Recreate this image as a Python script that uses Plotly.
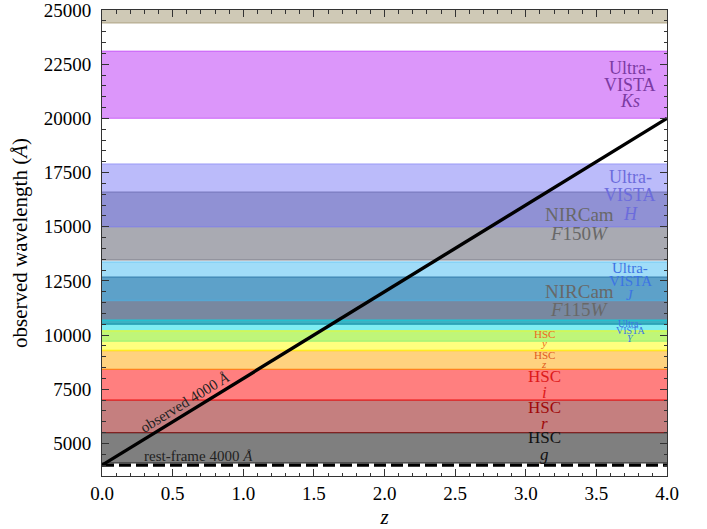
import math
import plotly.graph_objects as go

# ---------------- data ----------------
z_range = [0.0, 4.0]
wl_range = [3500, 25000]
rest_wavelength = 4000  # Angstrom
z_line = [0.0, 4.0]

filter_names = ["NIRCam F277W", "NIRCam F150W", "NIRCam F115W",
                "UltraVISTA Ks", "UltraVISTA H", "UltraVISTA J", "UltraVISTA Y",
                "HSC g", "HSC r", "HSC i", "HSC z", "HSC y"]
filter_lo = [24400, 13460, 10500, 20000, 15000, 11600, 9720, 4100, 5500, 7000, 8420, 9290]
filter_hi = [31000, 16600, 12680, 23100, 17900, 13380, 10700, 5500, 7000, 8420, 9290, 10200]
filter_label_lines = [
    ["NIRCam", "<i>F</i>277<i>W</i>"],
    ["NIRCam", "<i>F</i>150<i>W</i>"],
    ["NIRCam", "<i>F</i>115<i>W</i>"],
    ["Ultra-", "VISTA", "<i>Ks</i>"],
    ["Ultra-", "VISTA", "<i>H</i>"],
    ["Ultra-", "VISTA", "<i>J</i>"],
    ["Ultra-", "VISTA", "<i>Y</i>"],
    ["HSC", "<i>g</i>"],
    ["HSC", "<i>r</i>"],
    ["HSC", "<i>i</i>"],
    ["HSC", "<i>z</i>"],
    ["HSC", "<i>y</i>"],
]
label_z = [3.38, 3.38, 3.38, 3.74, 3.74, 3.74, 3.74, 3.13, 3.13, 3.13, 3.13, 3.13]

# ---------------- styles ----------------
fill_rgb = [(160, 148, 110), (83, 85, 101), (0, 30, 76),
            (185, 45, 245), (119, 119, 245), (65, 185, 241), (0, 220, 230),
            (0, 0, 0), (139, 0, 0), (255, 0, 0), (255, 165, 0), (255, 255, 0)]
fill_alpha = [0.5, 0.5, 0.53, 0.5, 0.5, 0.5, 0.5, 0.5, 0.5, 0.5, 0.5, 0.5]
label_color = ["#6b6b6b", "#686868", "#686868",
               "#7b3aa3", "#6c6cdc", "#3c74e4", "#3c78e0",
               "#111111", "#a00a0a", "#dd1a1a", "#e05a20", "#ee6a20"]
label_size = [19, 19, 19, 18, 18, 15, 10, 17, 17, 17, 11, 11]
label_spacing = [18.5, 18.5, 18.5, 16.5, 18.5, 13.5, 7.5, 17.5, 16.5, 16, 9, 9]
label_shift = [0, 2, 0, 0, 0, 0, 0, 2, 1, 0, 0, 2]

FONT = "'Liberation Serif', 'Times New Roman', Times, serif"
W, H = 707, 529
ML, MR, MT, MB = 102, 40, 10, 53

fig = go.Figure()

shapes = []
for lo, hi, rgb, a in zip(filter_lo, filter_hi, fill_rgb, fill_alpha):
    col = "rgba(%d,%d,%d,%.3f)" % (rgb[0], rgb[1], rgb[2], a)
    y0 = max(lo, wl_range[0])
    y1 = min(hi, wl_range[1])
    shapes.append(dict(type="rect", xref="paper", yref="y", x0=0, x1=1, y0=y0, y1=y1,
                       fillcolor=col, line=dict(width=0), layer="below"))
    for yy in (lo, hi):
        if wl_range[0] < yy < wl_range[1]:
            shapes.append(dict(type="line", xref="paper", yref="y", x0=0, x1=1, y0=yy, y1=yy,
                               line=dict(color=col, width=1.4), layer="below"))

# observed 4000 A line and rest-frame line
obs_wl = [rest_wavelength * (1 + z) for z in z_line]
fig.add_trace(go.Scatter(x=z_line, y=obs_wl, mode="lines",
                         line=dict(color="black", width=3.4), showlegend=False, hoverinfo="skip"))
fig.add_trace(go.Scatter(x=z_range, y=[rest_wavelength, rest_wavelength], mode="lines",
                         line=dict(color="black", width=3.4, dash="12px,5px"),
                         showlegend=False, hoverinfo="skip"))

annotations = []
for lines, zx, lo, hi, c, fs, sp, sh in zip(filter_label_lines, label_z, filter_lo, filter_hi,
                                             label_color, label_size, label_spacing, label_shift):
    yc = 0.5 * (lo + hi)
    if not (wl_range[0] < yc < wl_range[1]):
        continue
    n = len(lines)
    for i, t in enumerate(lines):
        annotations.append(dict(x=zx, y=yc, xref="x", yref="y", text=t, showarrow=False,
                                xanchor="center", yanchor="middle",
                                yshift=((n - 1) / 2 - i) * sp + sh,
                                font=dict(family=FONT, size=fs, color=c)))

# angle of the observed line in pixels
pw = W - ML - MR
ph = H - MT - MB
slope_px = (rest_wavelength * ph / (wl_range[1] - wl_range[0])) / (pw / (z_range[1] - z_range[0]))
ang = math.degrees(math.atan(slope_px))
annotations.append(dict(x=0.59, y=6910, xref="x", yref="y", text="observed 4000 <i>Å</i>",
                        showarrow=False, textangle=-ang,
                        font=dict(family=FONT, size=15, color="#222")))
annotations.append(dict(x=0.68, y=4420, xref="x", yref="y", text="rest-frame 4000 <i>Å</i>",
                        showarrow=False, font=dict(family=FONT, size=15, color="#222")))

axis_common = dict(showline=True, linecolor="#333", linewidth=1, mirror="allticks",
                   ticks="inside", ticklen=7, tickwidth=1, tickcolor="#333",
                   showgrid=False, zeroline=False, automargin=False,
                   ticklabeloverflow="allow",
                   tickfont=dict(family=FONT, size=19, color="black"))

fig.update_layout(
    width=W, height=H,
    margin=dict(l=ML, r=MR, t=MT, b=MB, autoexpand=False),
    paper_bgcolor="white", plot_bgcolor="white",
    font=dict(family=FONT),
    shapes=shapes, annotations=annotations,
    xaxis=dict(range=z_range, dtick=0.5, tick0=0, tickformat=".1f",
               minor=dict(ticks="inside", ticklen=3.5, dtick=0.1, tickcolor="#333"),
               title=dict(text="<i>z</i>", font=dict(family=FONT, size=21, color="black"), standoff=6),
               ticklabelstandoff=0,
               **axis_common),
    yaxis=dict(range=wl_range, dtick=2500, tick0=0, tickformat="d",
               minor=dict(ticks="inside", ticklen=3.5, dtick=500, tickcolor="#333"),
               title=dict(text="observed wavelength (<i>Å</i>)", font=dict(family=FONT, size=21, color="black"),
                          standoff=10),
               ticklabelstandoff=6,
               **axis_common),
)

fig.write_html("out.html")
